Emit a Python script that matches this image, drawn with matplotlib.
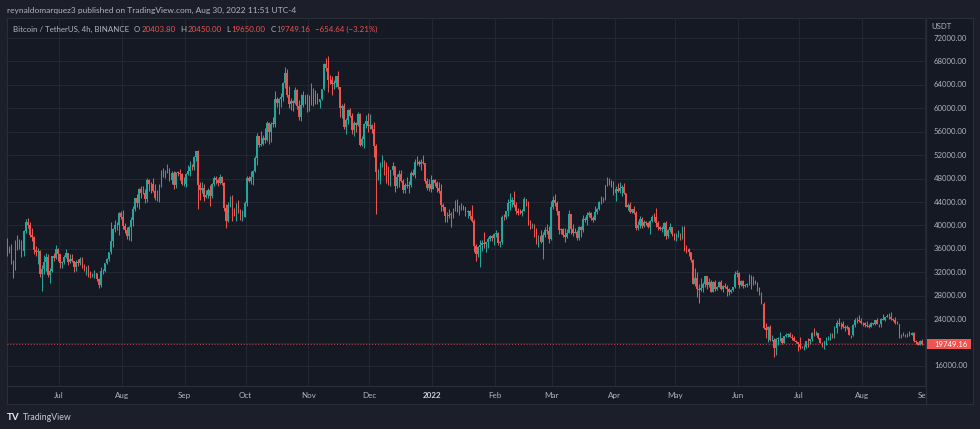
import matplotlib
matplotlib.use("Agg")
import matplotlib.pyplot as plt
import matplotlib.dates as mdates
from matplotlib.patches import Rectangle
import numpy as np
import pandas as pd

# ---------------- DATA (daily candles, thousands of USDT) ----------------
first_open = 36.85  # open of first candle (2021-06-05)

c_2106 = [35.52,35.8,33.56,33.38,37.39,36.68,37.33,35.55,39.02,40.52,40.14,38.35,38.09,35.82,35.48,35.6,31.68,32.5,33.68,34.66,31.6,32.23,34.7,34.49,35.9,35.04]
h_2106 = [37.9,36.5,36.8,34.07,37.53,38.4,37.68,37.44,39.3,41.06,41.33,40.5,39.56,38.2,36.45,36.1,35.75,33.3,34.88,35.3,35.2,32.7,34.75,35.3,36.6,36.1]
l_2106 = [34.8,35.26,33.4,31.0,32.4,35.8,35.94,34.6,34.76,38.73,39.5,38.1,37.4,35.13,34.8,33.34,31.25,28.8,31.68,32.3,31.27,30.15,32.0,33.86,34.23,34.0]

c_2107 = [33.54,33.82,34.68,35.29,33.69,34.23,33.86,32.88,33.81,33.52,34.26,33.09,32.73,32.82,31.78,31.39,31.53,31.8,30.84,29.79,32.14,32.29,33.58,34.28,35.4,37.28,39.46,40.0,40.02,42.2,41.46]
h_2107 = [35.04,33.94,34.95,35.94,35.29,35.1,35.06,33.92,34.1,34.26,34.6,34.67,33.34,33.1,33.19,32.25,31.95,32.44,31.9,31.06,32.86,32.6,33.65,34.5,35.4,40.55,39.55,40.9,40.64,42.32,42.4]
l_2107 = [32.71,32.7,33.33,34.38,33.16,33.53,33.77,32.1,32.25,33.0,33.3,32.67,32.2,31.6,31.13,31.02,31.16,31.1,30.5,29.28,29.48,31.7,32.0,33.4,33.85,35.2,36.4,38.8,39.2,38.3,41.04]

c_2108 = [39.85,39.15,38.21,39.72,40.87,42.84,44.61,43.83,46.29,45.6,45.53,44.43,47.83,47.1,47.02,45.94,44.69,44.7,46.76,49.34,48.87,49.29,49.55,47.7,48.97,46.84,49.07,48.9,48.8,46.99,47.11]
h_2108 = [42.6,40.45,39.78,39.97,41.4,43.4,44.75,45.31,46.45,46.7,46.75,46.2,48.14,48.0,47.39,48.05,47.15,46.0,47.05,49.38,49.82,49.5,50.5,49.87,49.25,49.35,49.15,49.3,49.63,48.9,48.25]
l_2108 = [39.42,38.7,37.64,37.5,37.33,39.85,42.45,43.08,42.78,44.7,45.35,43.77,44.05,45.85,45.5,45.66,44.38,44.2,43.95,46.64,48.3,48.1,49.03,47.6,47.12,46.3,46.36,48.37,47.8,46.85,46.7]

c_2109 = [48.85,49.28,49.94,49.92,51.76,52.66,46.86,46.05,46.4,44.85,45.17,46.03,44.94,47.1,48.13,47.75,47.3,48.3,47.26,42.98,40.69,43.56,44.87,42.81,42.67,43.16,42.2,41.03,41.52,43.79]
h_2109 = [48.95,50.4,51.05,50.55,51.9,52.78,52.92,47.36,47.4,47.0,45.99,46.45,46.88,47.25,48.45,48.49,48.16,48.81,48.37,47.33,43.6,44.0,44.98,45.2,42.97,43.9,44.35,42.78,42.6,44.13]
l_2109 = [46.5,48.6,48.38,49.46,49.5,50.97,42.84,44.41,45.51,44.14,44.74,44.75,43.37,44.7,46.75,47.05,46.75,47.1,46.85,42.5,39.6,40.56,43.1,40.68,41.67,40.8,42.1,40.88,40.75,41.4]

c_2110 = [48.14,47.63,48.2,49.22,51.47,55.34,53.8,53.97,54.96,54.66,57.47,56.0,57.37,57.35,61.67,60.88,61.53,62.01,64.28,66.0,62.21,60.69,61.3,60.85,63.08,60.33,58.46,60.59,62.25,61.85,61.3]
h_2110 = [48.5,48.36,49.23,49.5,51.89,55.75,55.34,56.1,55.45,56.56,57.84,57.68,57.6,58.53,62.93,62.0,61.72,62.6,64.49,67.0,66.64,63.73,61.75,61.5,63.71,63.29,61.5,62.5,62.96,62.3,62.4]
l_2110 = [43.28,47.43,47.1,46.9,49.07,50.38,53.36,53.6,53.7,54.08,54.4,53.88,54.25,56.82,56.85,60.15,58.96,60.2,61.32,63.48,62.0,60.0,59.67,59.5,60.65,59.82,58.0,57.82,60.17,60.7,59.4]

c_2111 = [60.91,63.22,62.93,61.4,61.0,61.53,63.27,67.53,66.94,64.88,64.77,64.13,64.38,65.47,63.56,60.06,60.34,56.85,58.05,59.7,58.67,56.28,57.54,57.14,58.96,53.73,54.72,57.27,57.8,56.95]
h_2111 = [62.3,64.27,63.5,63.1,62.6,61.58,63.29,67.79,68.53,69.0,65.6,65.46,64.9,65.5,66.4,63.62,60.8,60.95,58.32,59.86,60.0,59.27,57.87,57.7,59.4,59.2,55.28,57.44,58.87,59.25]
l_2111 = [59.5,60.6,60.38,60.68,60.72,60.0,61.35,63.1,66.32,62.82,64.1,62.28,63.3,63.6,63.3,58.57,58.37,56.47,55.6,57.4,58.5,55.6,55.3,55.9,57.0,53.5,53.6,53.25,56.7,55.88]

c_2112 = [57.18,56.48,53.6,49.15,49.4,50.44,50.58,50.47,47.55,47.14,49.39,50.1,46.74,48.34,48.86,47.63,46.13,46.83,46.68,46.91,48.94,48.63,50.82,50.8,50.43,50.8,50.7,47.54,46.46,47.12,46.22]
h_2112 = [59.05,57.38,57.6,53.87,49.7,50.9,51.94,51.2,50.8,50.1,49.48,50.8,50.2,48.7,49.5,49.42,48.0,47.3,48.3,47.54,49.33,49.57,51.38,51.87,51.16,51.3,52.09,50.7,48.13,47.9,48.55]
l_2112 = [56.47,55.83,51.68,42.0,47.7,47.1,50.04,48.6,47.32,46.85,46.75,48.63,45.67,46.33,46.55,47.5,45.46,45.6,46.4,45.55,46.63,48.4,48.05,50.4,50.18,49.4,50.48,47.32,46.1,45.9,45.68]

c_2201 = [47.72,47.29,46.43,45.83,43.45,43.08,41.55,41.68,41.86,41.82,42.74,43.92,42.59,43.1,43.18,43.11,42.25,42.38,41.66,40.68,36.45,35.07,36.28,36.65,36.96,36.81,37.16,37.71,38.17,37.9,38.48]
h_2201 = [47.94,47.99,47.57,47.5,47.07,43.75,43.15,42.3,42.79,42.25,43.0,44.32,44.46,43.45,43.8,43.48,43.2,42.7,42.58,43.5,41.1,36.84,36.5,37.55,37.55,38.92,37.23,38.0,38.36,38.4,38.73]
l_2201 = [46.2,46.65,45.7,45.5,42.5,42.43,40.6,40.5,41.2,39.65,41.27,42.45,42.31,41.73,42.6,42.7,41.54,41.25,41.14,40.55,35.44,34.0,34.6,32.92,35.7,36.2,35.5,36.15,37.3,37.36,36.6]

c_2202 = [38.74,36.95,37.15,41.5,41.41,42.41,43.84,44.04,44.39,43.51,42.39,42.2,42.06,42.54,44.55,43.87,40.5,40.01,40.12,38.43,37.02,38.25,37.25,38.33,39.22,39.12,37.7,43.16]
h_2202 = [39.27,38.86,37.4,41.7,41.93,42.5,44.5,45.49,44.8,45.82,43.92,43.0,42.76,42.88,44.77,44.58,44.17,40.96,40.48,40.16,39.5,38.4,39.27,38.85,39.7,40.3,39.88,44.2]
l_2202 = [38.0,36.58,36.25,36.9,40.9,41.1,41.65,42.67,43.12,43.2,42.0,41.75,41.87,41.57,42.43,43.3,40.1,39.45,39.63,38.0,36.8,36.35,37.04,34.32,38.0,38.6,37.0,37.45]

c_2203 = [44.42,43.89,42.45,39.15,39.4,38.42,38.06,38.74,41.94,39.42,38.73,38.81,37.78,39.67,39.28,41.11,40.92,41.76,42.2,41.26,41.0,42.36,42.89,43.96,44.35,44.5,46.82,47.13,47.43,47.07,45.51]
h_2203 = [44.95,45.4,44.1,42.5,39.6,39.64,39.55,39.36,42.59,42.0,40.25,39.49,39.3,39.91,39.86,41.7,41.47,42.33,42.4,42.3,41.54,43.35,43.0,44.2,45.1,44.8,46.9,48.19,48.1,47.7,47.6]
l_2203 = [42.8,43.33,41.84,38.55,38.6,38.1,37.15,37.86,38.66,38.54,38.22,38.66,37.58,37.58,38.1,38.9,40.5,40.13,41.5,40.9,40.5,40.9,41.9,42.6,43.6,44.07,44.4,46.66,46.94,46.6,45.2]

c_2204 = [46.28,45.81,46.41,46.58,45.5,43.17,43.44,42.25,42.75,42.16,39.53,40.07,41.15,39.94,40.55,40.38,39.68,40.8,41.5,41.36,40.48,39.71,39.43,39.45,40.43,38.11,39.24,39.74,38.6,37.63]
h_2204 = [46.7,47.2,47.44,46.9,47.2,45.5,43.9,43.97,42.8,43.4,42.4,40.7,41.56,41.5,40.9,40.7,40.6,41.0,41.76,42.2,42.98,40.8,39.98,39.93,40.6,40.8,39.47,40.37,39.43,38.78]
l_2204 = [44.2,45.65,45.5,45.1,45.35,43.1,42.7,42.1,42.1,41.87,39.2,39.25,39.55,39.55,39.75,40.0,39.55,38.54,40.57,40.8,39.75,39.17,39.3,38.9,38.2,37.7,37.87,38.88,38.18,37.58]

c_2205 = [38.47,38.53,37.75,39.69,36.55,36.01,35.47,34.04,30.08,31.0,29.08,28.94,29.28,30.08,31.3,29.86,30.42,28.7,30.3,29.2,29.43,30.28,29.1,29.65,29.54,29.2,28.63,29.03,29.47,31.73,31.8]
h_2205 = [38.68,39.17,38.65,39.9,39.85,36.65,36.13,35.5,34.24,32.66,32.0,30.03,31.0,30.34,31.41,31.3,31.0,30.68,30.5,30.75,29.6,30.45,30.65,29.83,30.2,29.83,29.36,29.2,29.53,32.22,32.4]
l_2205 = [37.39,38.05,37.51,37.7,35.57,35.27,34.77,33.71,30.03,29.73,27.7,26.7,28.75,28.63,29.5,29.08,29.5,28.62,28.65,28.73,28.95,29.45,28.9,28.6,29.3,28.0,28.2,28.5,28.84,29.3,31.2]

c_2206 = [29.8,30.45,29.7,29.86,29.9,31.37,31.13,30.2,30.11,29.09,28.42,26.57,22.49,22.14,22.58,20.38,20.47,19.0,20.55,20.7,20.72,19.97,21.1,21.23,21.5,21.03,20.73,20.26,20.1,19.78]
h_2206 = [31.98,30.69,30.68,29.95,30.17,31.77,31.55,31.3,30.7,30.38,29.44,28.55,26.9,23.36,22.8,22.97,21.3,20.8,20.8,21.0,21.72,20.86,21.2,21.55,21.6,21.87,21.52,21.2,20.42,20.14]
l_2206 = [29.3,29.59,29.27,29.48,29.5,29.87,29.22,29.85,29.95,28.85,28.1,26.56,22.4,20.85,20.1,20.23,20.24,17.62,17.96,19.63,20.35,19.77,19.9,20.9,20.9,20.95,20.5,20.2,19.85,18.63]

c_2207 = [19.3,19.24,19.3,20.23,20.19,20.55,21.64,21.59,21.59,20.86,19.97,19.33,20.22,20.59,20.83,21.2,20.79,22.42,23.4,23.22,23.15,22.68,22.45,22.58,21.31,21.25,22.95,23.84,23.77,23.64,23.29]
h_2207 = [20.88,19.38,19.65,20.35,20.75,20.67,21.84,22.53,21.95,21.6,20.86,20.05,20.25,20.88,21.2,21.6,21.68,22.75,23.8,24.28,23.44,23.75,22.99,23.0,22.65,21.35,23.1,24.2,24.44,24.67,24.19]
l_2207 = [18.97,19.0,18.75,19.05,19.3,19.76,20.25,21.19,21.33,20.65,19.88,19.24,18.9,19.62,20.39,20.48,20.76,20.75,21.6,22.9,22.34,22.5,21.95,22.26,21.25,20.7,21.04,22.6,23.4,23.5,23.22]

c_2208 = [23.27,22.99,22.82,22.62,23.31,23.17,23.81,23.16,23.15,23.95,23.93,24.4,24.44,24.31,24.1,23.85,23.34,23.19,20.83,21.14,21.52,21.4,21.53,21.37,21.56,20.24,20.03,19.55,20.29,19.75]
h_2208 = [23.51,23.44,23.65,23.2,23.45,23.35,23.92,24.25,23.22,24.2,24.92,24.45,24.88,25.05,25.2,24.25,24.45,23.6,23.2,21.38,21.8,21.53,21.67,21.9,21.82,21.88,20.39,20.12,20.43,20.58]
l_2208 = [22.85,22.65,22.68,22.43,22.58,22.93,22.99,23.15,22.66,22.65,23.9,23.6,24.29,24.05,23.77,23.69,23.18,23.1,20.78,20.76,21.1,20.89,20.9,21.15,21.3,20.11,19.8,19.53,19.55,19.54]

month_starts = ["2021-06-05","2021-07-01","2021-08-01","2021-09-01","2021-10-01","2021-11-01",
                "2021-12-01","2022-01-01","2022-02-01","2022-03-01","2022-04-01","2022-05-01",
                "2022-06-01","2022-07-01","2022-08-01"]

price_ticks = [16000, 20000, 24000, 28000, 32000, 36000, 40000, 44000, 48000,
               52000, 56000, 60000, 64000, 68000, 72000]
hidden_tick = 20000  # covered by last price label
month_labels = ["Jul","Aug","Sep","Oct","Nov","Dec","2022","Feb","Mar","Apr","May","Jun","Jul","Aug","Sep"]
month_label_dates = ["2021-07-01","2021-08-01","2021-09-01","2021-10-01","2021-11-01","2021-12-01",
                     "2022-01-01","2022-02-01","2022-03-01","2022-04-01","2022-05-01","2022-06-01",
                     "2022-07-01","2022-08-01","2022-09-01"]

last_price = 19749.16
header = "reynaldomarquez3 published on TradingView.com, Aug 30, 2022 11:51 UTC-4"
symbol = "Bitcoin / TetherUS, 4h, BINANCE"
ohlc_labels = ["O", "H", "L", "C"]
ohlc_values = ["20403.80", "20450.00", "19650.00", "19749.16"]
change_text = "\u2212654.64 (\u22123.21%)"

# ---------------- BUILD SERIES ----------------
closes_m = [c_2106,c_2107,c_2108,c_2109,c_2110,c_2111,c_2112,c_2201,c_2202,c_2203,c_2204,c_2205,c_2206,c_2207,c_2208]
highs_m = [h_2106,h_2107,h_2108,h_2109,h_2110,h_2111,h_2112,h_2201,h_2202,h_2203,h_2204,h_2205,h_2206,h_2207,h_2208]
lows_m = [l_2106,l_2107,l_2108,l_2109,l_2110,l_2111,l_2112,l_2201,l_2202,l_2203,l_2204,l_2205,l_2206,l_2207,l_2208]

dates, C, H, L = [], [], [], []
for ms, cc, hh, ll in zip(month_starts, closes_m, highs_m, lows_m):
    n = min(len(cc), len(hh), len(ll))
    dates.extend(pd.date_range(ms, periods=n, freq="D") + pd.Timedelta(hours=12))
    C.extend(cc[:n]); H.extend(hh[:n]); L.extend(ll[:n])
C = np.array(C) * 1000
H = np.array(H) * 1000
L = np.array(L) * 1000
O = np.concatenate([[first_open * 1000], C[:-1]])  # 24/7 market: open = prior close
H = np.maximum(H, np.maximum(O, C))
L = np.minimum(L, np.minimum(O, C))
x = mdates.date2num(pd.DatetimeIndex(dates).to_pydatetime())

# ---------------- STYLE ----------------
W, Hh = 980, 429
FIG_BG = "#1c1f29"
CHART_BG = "#151924"
GRID = "#232633"
BORDER = "#2a2e39"
TEXT = "#b2b5be"
UP = "#26a69a"
DOWN = "#ef5350"
FONT = ["Lato", "DejaVu Sans"]
plt.rcParams["font.family"] = FONT

fig = plt.figure(figsize=(W / 100, Hh / 100), dpi=100, facecolor=FIG_BG)

def fx(px):
    return px / W

def fy(py):
    return 1 - py / Hh

# chart frame
frame = fig.add_axes([fx(7), fy(404), fx(973) - fx(7), fy(18) - fy(404)])
frame.set_facecolor(CHART_BG)
frame.set_xticks([]); frame.set_yticks([])
for s in frame.spines.values():
    s.set_color(BORDER); s.set_linewidth(0.8)
frame.set_zorder(0)

# main plot
ax = fig.add_axes([fx(7), fy(386), fx(926) - fx(7), fy(18) - fy(386)])
ax.set_facecolor("none")
ax.set_zorder(2)
jul1 = mdates.date2num(pd.Timestamp("2021-07-01").to_pydatetime())
ax.set_xlim(jul1 - 25.65, jul1 + 427.64)
ax.set_ylim(12585, 75415)
for s in ax.spines.values():
    s.set_visible(False)
ax.set_xticks([]); ax.set_yticks([])

# grid
for p in price_ticks:
    ax.axhline(p, color=GRID, lw=0.8, zorder=0)
for d in month_label_dates:
    ax.axvline(mdates.date2num(pd.Timestamp(d).to_pydatetime()), color=GRID, lw=0.8, zorder=0)

# candles
up = C >= O
cols = np.where(up, UP, DOWN)
ax.vlines(x, L, H, colors=cols, lw=0.75, zorder=3)
body_h = np.where(np.abs(C - O) < 60, 60, np.abs(C - O))
ax.bar(x, body_h, bottom=np.minimum(O, C), width=0.8, color=cols, lw=0, zorder=4)

# last price dotted line
ax.axhline(last_price, color=DOWN, lw=0.7, ls=(0, (1, 2)), alpha=0.8, zorder=2)

# separators
fig.add_artist(plt.Line2D([fx(926), fx(926)], [fy(18), fy(404)], color=BORDER, lw=0.8))
fig.add_artist(plt.Line2D([fx(7), fx(926)], [fy(386), fy(386)], color=BORDER, lw=0.8))

# price axis labels
pax = fig.add_axes([fx(926), fy(386), fx(973) - fx(926), fy(18) - fy(386)])
pax.set_facecolor("none"); pax.set_zorder(3)
pax.set_xlim(0, 1); pax.set_ylim(ax.get_ylim())
pax.axis("off")
for p in price_ticks:
    if p == hidden_tick:
        continue
    pax.text(0.17, p, f"{p:.2f}", color=TEXT, fontsize=5.6, va="center", ha="left")
pax.text(0.12, 73900, "USDT", color=TEXT, fontsize=5.6, va="center", ha="left",
         bbox=dict(boxstyle="square,pad=0.35", fc=CHART_BG, ec="none"))
pax.add_patch(Rectangle((0.02, last_price - 850), 0.93, 1700, color="#f05350", lw=0, zorder=5))
pax.text(0.17, last_price, f"{last_price:.2f}", color="white", fontsize=5.6, va="center",
         ha="left", zorder=6)

# time axis labels
tax = fig.add_axes([fx(7), fy(404), fx(926) - fx(7), fy(386) - fy(404)])
tax.set_facecolor("none"); tax.set_zorder(3)
tax.set_xlim(ax.get_xlim()); tax.set_ylim(0, 1)
tax.axis("off")
for lab, d in zip(month_labels, month_label_dates):
    bold = lab.isdigit()
    tax.text(mdates.date2num(pd.Timestamp(d).to_pydatetime()), 0.45, lab,
             color="#d1d4dc" if bold else TEXT, fontsize=5.8,
             fontweight="bold" if bold else "normal", ha="center", va="center", clip_on=True)

# header
fig.text(fx(7), fy(10), header, color=TEXT, fontsize=6.0, va="center", ha="left")

# legend line, laid out sequentially
renderer = fig.canvas.get_renderer()
def put(xpx, s, color, gap):
    t = fig.text(fx(xpx), fy(29), s, color=color, fontsize=5.7, va="center", ha="left", zorder=10)
    bb = t.get_window_extent(renderer=renderer)
    return bb.x1 + gap

cur = put(13, symbol, TEXT, 5)
for lab, val in zip(ohlc_labels, ohlc_values):
    cur = put(cur, lab, TEXT, 0.8)
    cur = put(cur, val, DOWN, 5)
put(cur, change_text, DOWN, 0)

# TradingView footer
fig.text(fx(7), fy(417), "TV", color="#f0e6ea", fontsize=7, fontweight="bold", va="center", ha="left")
fig.text(fx(23), fy(417), "TradingView", color="#c8cad0", fontsize=6.3, va="center", ha="left")

fig.savefig("out.png", dpi=100, facecolor=FIG_BG)
